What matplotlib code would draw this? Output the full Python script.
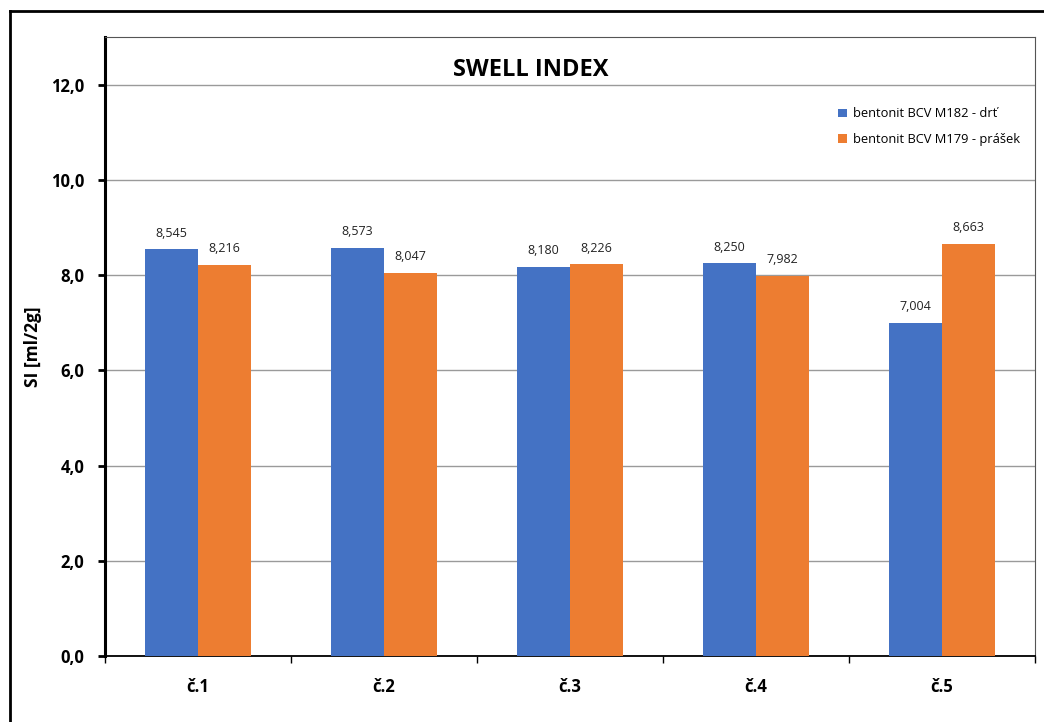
import numpy as np
import matplotlib.pyplot as plt
from matplotlib.lines import Line2D

categories = ["č.1", "č.2", "č.3", "č.4", "č.5"]
drt = [8.545, 8.573, 8.180, 8.250, 7.004]
prasek = [8.216, 8.047, 8.226, 7.982, 8.663]
series_names = ["bentonit BCV M182 - drť", "bentonit BCV M179 - prášek"]
yticks = [0, 2, 4, 6, 8, 10, 12]

plt.rcParams['font.family'] = ['Open Sans', 'DejaVu Sans']

W, H = 1044, 722
fig = plt.figure(figsize=(W / 100, H / 100), dpi=100)
ax = fig.add_axes([105 / W, 1 - 656 / H, 930 / W, (656 - 37) / H])

# outer chart frame (only left and top edges are visible)
fig.add_artist(Line2D([10 / W, 10 / W], [0, 1 - 11 / H], transform=fig.transFigure, color='black', lw=2))
fig.add_artist(Line2D([10 / W, 1], [1 - 11 / H, 1 - 11 / H], transform=fig.transFigure, color='black', lw=2))

x = np.arange(len(categories))
bw = 0.285
b1 = ax.bar(x - bw / 2, drt, bw, color='#4472C4', label=series_names[0], zorder=3)
b2 = ax.bar(x + bw / 2, prasek, bw, color='#ED7D31', label=series_names[1], zorder=3)

for bars, vals in ((b1, drt), (b2, prasek)):
    for rect, v in zip(bars, vals):
        ax.text(rect.get_x() + rect.get_width() / 2, v + 0.2, f"{v:.3f}".replace('.', ','),
                ha='center', va='bottom', fontsize=9, color='#222222')

ax.set_xlim(-0.5, len(categories) - 0.5)
ax.set_ylim(0, 13)
ax.set_yticks(yticks)
ax.set_yticklabels([f"{t:.1f}".replace('.', ',') for t in yticks], fontsize=12, fontweight='bold')
ax.yaxis.grid(True, color='#9a9a9a', lw=1, zorder=0)

ax.set_xticks(x)
ax.set_xticklabels(categories, fontsize=12, fontweight='bold')
ax.tick_params(axis='x', length=0, pad=16)
ax.set_xticks(np.arange(-0.5, len(categories)), minor=True)
ax.tick_params(axis='x', which='minor', length=5, width=1, direction='out')
ax.tick_params(axis='y', length=5, width=2, direction='out', pad=10)

ax.spines['left'].set_linewidth(2.2)
ax.spines['bottom'].set_linewidth(1.3)
ax.spines['top'].set_color('#555555')
ax.spines['right'].set_color('#555555')

ax.set_ylabel("SI [ml/2g]", fontsize=12.5, fontweight='bold', labelpad=6)
ax.text(0.458, 0.946, "SWELL INDEX", transform=ax.transAxes, ha='center', va='center',
        fontsize=17, fontweight='bold')

leg = ax.legend(loc='upper left', bbox_to_anchor=(0.776, 0.905), frameon=False, fontsize=9.3,
                handlelength=0.65, handleheight=0.65, handletextpad=0.5, labelspacing=1.0)

fig.savefig("out.png", dpi=100)
